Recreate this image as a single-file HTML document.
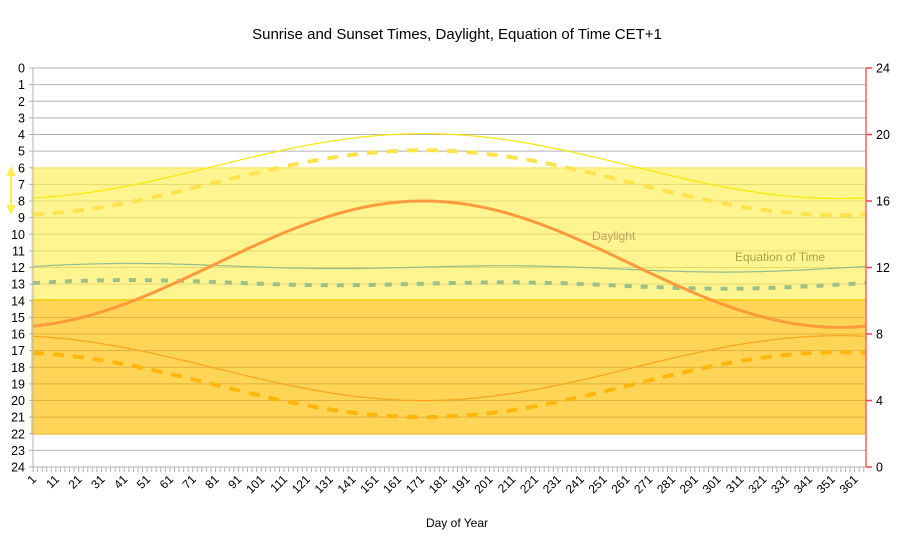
<!DOCTYPE html>
<html><head><meta charset="utf-8"><style>
body{margin:0;background:#fff;}
svg{display:block;font-family:"Liberation Sans",sans-serif;}
</style></head><body>
<svg id="s" width="915" height="547" xmlns="http://www.w3.org/2000/svg">
<text x="457" y="39" font-size="15" text-anchor="middle" fill="#000">Sunrise and Sunset Times, Daylight, Equation of Time CET+1</text>
<rect x="31" y="168" width="835" height="133" fill="#fff590"/>
<rect x="31" y="301" width="835" height="133" fill="#ffd558"/>
<line x1="31" y1="168" x2="866" y2="168" stroke="#ffe96b" stroke-width="1.5"/>
<line x1="31" y1="300" x2="866" y2="300" stroke="#f5d020" stroke-width="2"/>
<line x1="31" y1="434" x2="866" y2="434" stroke="#f0c040" stroke-width="1.5"/>
<g id="grid"></g>
<g id="curves"></g>
<line x1="33" y1="68" x2="33" y2="467" stroke="#b3b3b3"/>
<line x1="866" y1="68" x2="866" y2="467" stroke="#ff6060" stroke-width="1.5"/>
<g id="lab" font-size="12.5" fill="#000"></g>
<polygon points="11,166 6,176 16,176" fill="#ffee55"/>
<line x1="11" y1="174" x2="11" y2="206" stroke="#ffee55" stroke-width="2"/>
<polygon points="11,215 6,205 16,205" fill="#ffee55"/>
<text x="592" y="240" font-size="12" fill="#c0a060">Daylight</text>
<text x="735" y="261" font-size="12" fill="#a8a24a">Equation of Time</text>
<text x="457" y="527" font-size="12" text-anchor="middle">Day of Year</text>
</svg>
<script>
var NS="http://www.w3.org/2000/svg",s=document.getElementById('s');
function el(p,t,a,txt){var e=document.createElementNS(NS,t);for(var k in a)e.setAttribute(k,a[k]);if(txt!==undefined)e.textContent=txt;document.getElementById(p).appendChild(e);return e;}
function Y(h){return 68+h*399/24;}
function YR(h){return 467-h*399/24;}
function X(d){return 33+(d-1)*833/365;}
for(var h=0;h<=24;h++){
 var c=h>6&&h<14?"#e8d870":(h>14&&h<22?"#e0b040":"#b3b3b3");
 if(h!=6&&h!=14&&h!=22)el('grid','line',{x1:33,y1:Y(h),x2:866,y2:Y(h),stroke:c});
 el('grid','line',{x1:29,y1:Y(h),x2:33,y2:Y(h),stroke:"#b3b3b3"});
 el('lab','text',{x:25,y:Y(h)+4.5,"text-anchor":"end"},h);
}
for(var r=0;r<=24;r+=4){el('grid','line',{x1:866,y1:YR(r),x2:872,y2:YR(r),stroke:"#ff4040","stroke-width":1.5});
 el('lab','text',{x:876,y:YR(r)+4.5},r);}
for(var d=1;d<=366;d+=2)el('grid','line',{x1:X(d),y1:467,x2:X(d),y2:472,stroke:"#b3b3b3"});
for(var d=1;d<=361;d+=10){var x=X(d)+4,y=480;el('lab','text',{x:x,y:y,"text-anchor":"end",transform:"rotate(-45 "+x+" "+y+")","font-size":12},d);}
function path(f,sc,st){var p="";for(var d=1;d<=366;d++){p+=(d==1?"M":"L")+X(d).toFixed(1)+","+sc(f(d)).toFixed(1);}
 st.d=p;st.fill="none";el('curves','path',st);}
function cs(d){return Math.cos(2*Math.PI*(d-172)/365);}
function E(d){var B=2*Math.PI*(d-81)/365;return (9.87*Math.sin(2*B)-7.53*Math.cos(B)-1.5*Math.sin(B))/60;}
path(function(d){return 5.9-1.95*cs(d);},Y,{stroke:"#ffe600","stroke-width":1.2});
path(function(d){return 6.9-1.95*cs(d);},Y,{stroke:"#ffe34d","stroke-width":4,"stroke-dasharray":"11,9"});
path(function(d){return 18.05+1.95*cs(d);},Y,{stroke:"#ffa31a","stroke-width":1.2});
path(function(d){return 19.05+1.95*cs(d);},Y,{stroke:"#ffb60a","stroke-width":4,"stroke-dasharray":"11,9"});
path(function(d){return 12+E(d);},Y,{stroke:"#8fbc8f","stroke-width":1.2});
path(function(d){return 13+E(d);},Y,{stroke:"#9cc08a","stroke-width":4,"stroke-dasharray":"7,9"});
path(function(d){return 12.2+3.8*cs(d);},YR,{stroke:"#ff9a3c","stroke-width":3});
</script>
</body></html>
